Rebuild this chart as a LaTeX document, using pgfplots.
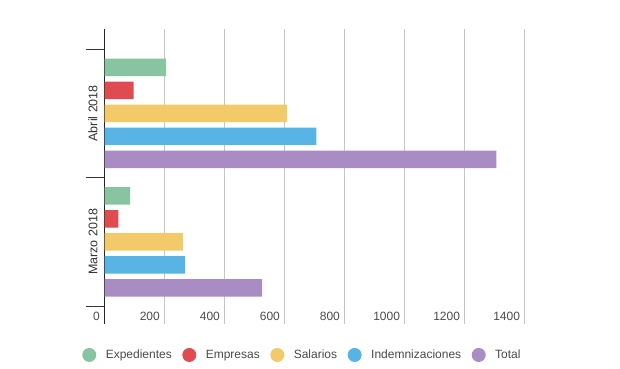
\documentclass[border=0pt]{standalone}
\usepackage{fontspec}
\setmainfont{Liberation Sans}
\usepackage{pgfplots}
\pgfplotsset{compat=1.18}
\definecolor{cExp}{HTML}{88C4A0}
\definecolor{cEmp}{HTML}{E04B52}
\definecolor{cSal}{HTML}{F2CA6A}
\definecolor{cInd}{HTML}{58B4E5}
\definecolor{cTot}{HTML}{AA8CC5}
\definecolor{cTxt}{HTML}{4A4A4A}
\begin{document}
\begin{tikzpicture}
\useasboundingbox (0,0) rectangle (620pt,368pt);
\begin{axis}[
  at={(104.5pt,44pt)}, anchor=south west,
  scale only axis, width=420.2pt, height=295pt,
  xmin=0, xmax=1400, ymin=-0.64, ymax=1.656,
  xbar, bar width=0.136,
  axis lines=left, axis line style={-},
  x axis line style={draw=none},
  y axis line style={draw=black!85, line width=1.3pt},
  xtick={0,200,...,1400},
  xtick style={draw=none},
  xmajorgrids, grid style={draw=gray!45, line width=0.9pt},
  /pgf/number format/assume math mode=true,
  /pgf/number format/1000 sep={},
  xticklabel style={anchor=east, inner sep=0pt, xshift=-4.5pt, yshift=7.5pt, font=\fontsize{12}{14}\selectfont, text=cTxt},
  ytick={0,1}, yticklabels={Marzo 2018, Abril 2018},
  major tick length=0pt,
  minor ytick={-0.5,0.5,1.5}, minor tick length=19pt, tick align=outside,
  ytick style={draw=black!80, line width=1pt},
  yticklabel style={rotate=90, anchor=center, yshift=11.5pt, font=\fontsize{12.5}{14}\selectfont, text=black!80},
  legend columns=-1,
  legend style={draw=none, fill=none, at={(0.471,-0.105)}, anchor=center,
    font=\fontsize{12}{14}\selectfont, text=cTxt,
    /tikz/every odd column/.append style={column sep=7.5pt},
    /tikz/every even column/.append style={column sep=8.5pt}},
]
\addplot[fill=cExp, draw=none, bar shift=0.358, legend image code/.code={\fill[cExp] (0pt,0pt) circle (7pt);}] coordinates {(205,1) (85,0)};
\addlegendentry{Expedientes}
\addplot[fill=cEmp, draw=none, bar shift=0.179, legend image code/.code={\fill[cEmp] (0pt,0pt) circle (7pt);}] coordinates {(97,1) (46,0)};
\addlegendentry{Empresas}
\addplot[fill=cSal, draw=none, bar shift=0, legend image code/.code={\fill[cSal] (0pt,0pt) circle (7pt);}] coordinates {(608,1) (261,0)};
\addlegendentry{Salarios}
\addplot[fill=cInd, draw=none, bar shift=-0.179, legend image code/.code={\fill[cInd] (0pt,0pt) circle (7pt);}] coordinates {(706,1) (269,0)};
\addlegendentry{Indemnizaciones}
\addplot[fill=cTot, draw=none, bar shift=-0.358, legend image code/.code={\fill[cTot] (0pt,0pt) circle (7pt);}] coordinates {(1306,1) (525,0)};
\addlegendentry{Total}
\end{axis}
\end{tikzpicture}
\end{document}
